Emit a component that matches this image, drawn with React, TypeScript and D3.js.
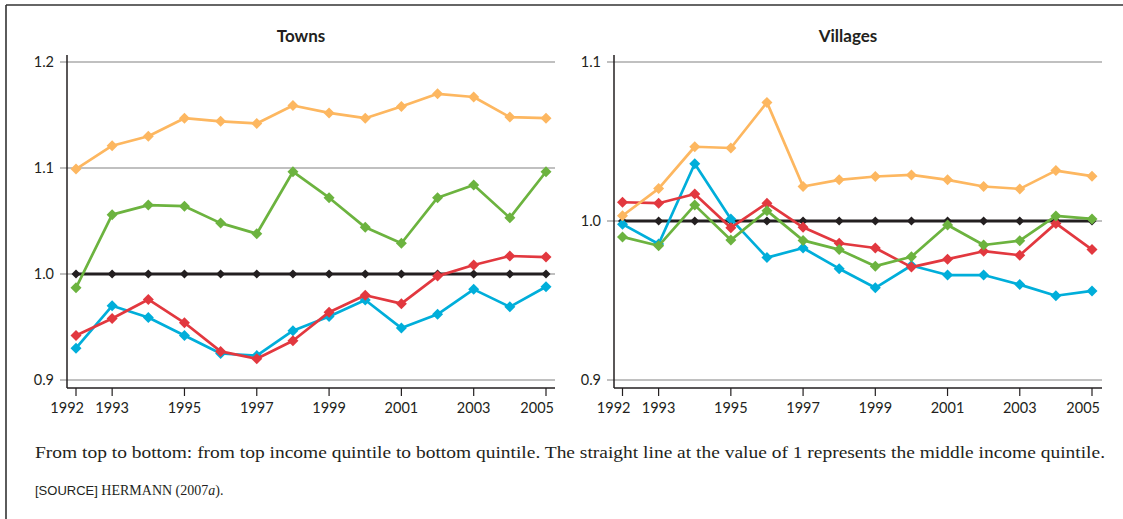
import React from "react";
import * as d3 from "d3";

const years = [1992, 1993, 1994, 1995, 1996, 1997, 1998, 1999, 2000, 2001, 2002, 2003, 2004, 2005];
const xTickYears = [1992, 1993, 1995, 1997, 1999, 2001, 2003, 2005];

const townsTop = [1.099, 1.121, 1.130, 1.147, 1.144, 1.142, 1.159, 1.152, 1.147, 1.158, 1.170, 1.167, 1.148, 1.147];
const townsSecond = [0.987, 1.056, 1.065, 1.064, 1.048, 1.038, 1.0965, 1.072, 1.044, 1.029, 1.072, 1.084, 1.053, 1.0965];
const townsMiddle = [1, 1, 1, 1, 1, 1, 1, 1, 1, 1, 1, 1, 1, 1];
const townsFourth = [0.942, 0.958, 0.976, 0.954, 0.927, 0.920, 0.937, 0.964, 0.980, 0.972, 0.998, 1.0085, 1.017, 1.016];
const townsBottom = [0.930, 0.970, 0.959, 0.942, 0.925, 0.923, 0.9465, 0.960, 0.9755, 0.949, 0.962, 0.9855, 0.969, 0.988];

const villagesTop = [1.0033, 1.0204, 1.0467, 1.0459, 1.0746, 1.0217, 1.0259, 1.028, 1.029, 1.0259, 1.0217, 1.0202, 1.0317, 1.0282];
const villagesSecond = [0.990, 0.9844, 1.010, 0.988, 1.0065, 0.9878, 0.982, 0.9716, 0.9775, 0.9975, 0.9849, 0.9876, 1.0032, 1.0013];
const villagesMiddle = [1, 1, 1, 1, 1, 1, 1, 1, 1, 1, 1, 1, 1, 1];
const villagesFourth = [1.0118, 1.0112, 1.017, 0.9958, 1.0112, 0.996, 0.986, 0.983, 0.971, 0.976, 0.981, 0.9785, 0.9985, 0.982];
const villagesBottom = [0.998, 0.9855, 1.036, 1.0013, 0.977, 0.983, 0.970, 0.958, 0.972, 0.966, 0.966, 0.960, 0.953, 0.956];

const townsYTicks = [0.9, 1.0, 1.1, 1.2];
const villagesYTicks = [0.9, 1.0, 1.1];

const COLORS = {
  top: "#FDB760",
  second: "#6CB33F",
  middle: "#231F20",
  fourth: "#E2383F",
  bottom: "#00AEDA",
};

const SANS = "Lato, 'Open Sans', sans-serif";
const SERIF = "'Liberation Serif', 'DejaVu Serif', serif";

type Series = { key: string; values: number[]; color: string; middle?: boolean };

function Panel(props: {
  title: string;
  series: Series[];
  yDomain: [number, number];
  yTicks: number[];
  x0: number;
  x1: number;
  axisX: number;
  rightX: number;
}) {
  const { title, series, yDomain, yTicks, x0, x1, axisX, rightX } = props;
  const x = d3.scaleLinear().domain([1992, 2005]).range([x0, x1]);
  const y = d3.scaleLinear().domain(yDomain).range([380, 62]);
  const axisY = 388;
  const line = d3
    .line<number>()
    .x((_, i) => x(years[i]))
    .y((v) => y(v));
  const diamond = (cx: number, cy: number, r: number) =>
    `M${cx},${cy - r}L${cx + r},${cy}L${cx},${cy + r}L${cx - r},${cy}Z`;
  const cxTitle = (axisX + rightX) / 2 - 10;
  return (
    <g>
      <text x={cxTitle} y={42} textAnchor="middle" fontFamily={SANS} fontWeight="bold" fontSize={17} fill="#231F20">
        {title}
      </text>
      {yTicks.map((t) => (
        <g key={t}>
          <line x1={axisX - 7} x2={rightX} y1={y(t)} y2={y(t)} stroke="#ABABAB" strokeWidth={1.5} />
          <text x={axisX - 13} y={y(t)} dy="0.35em" textAnchor="end" fontFamily={SANS} fontSize={14.5} fill="#231F20">
            {d3.format(".1f")(t)}
          </text>
        </g>
      ))}
      <line x1={axisX} x2={axisX} y1={55} y2={axisY} stroke="#231F20" strokeWidth={1.5} />
      <line x1={axisX} x2={rightX} y1={axisY} y2={axisY} stroke="#231F20" strokeWidth={1.5} />
      {xTickYears.map((yr) => {
        const edge = yr === 1992 || yr === 2005;
        return (
          <g key={yr}>
            <line x1={x(yr)} x2={x(yr)} y1={axisY} y2={axisY + 8} stroke="#231F20" strokeWidth={1.2} />
            <text
              x={edge ? x(yr) + 8 : x(yr)}
              y={413}
              textAnchor={edge ? "end" : "middle"}
              fontFamily={SANS}
              fontSize={14.5}
              fill="#231F20"
            >
              {yr}
            </text>
          </g>
        );
      })}
      {series.map((s) => (
        <g key={s.key}>
          <path d={line(s.values) || ""} fill="none" stroke={s.color} strokeWidth={s.middle ? 3 : 2.7} strokeLinejoin="round" />
          {s.values.map((v, i) => (
            <path key={i} d={diamond(x(years[i]), y(v), s.middle ? 4.5 : 5.5)} fill={s.color} />
          ))}
        </g>
      ))}
    </g>
  );
}

export default function App() {
  const towns: Series[] = [
    { key: "middle", values: townsMiddle, color: COLORS.middle, middle: true },
    { key: "bottom", values: townsBottom, color: COLORS.bottom },
    { key: "fourth", values: townsFourth, color: COLORS.fourth },
    { key: "second", values: townsSecond, color: COLORS.second },
    { key: "top", values: townsTop, color: COLORS.top },
  ];
  const villages: Series[] = [
    { key: "middle", values: villagesMiddle, color: COLORS.middle, middle: true },
    { key: "bottom", values: villagesBottom, color: COLORS.bottom },
    { key: "fourth", values: villagesFourth, color: COLORS.fourth },
    { key: "second", values: villagesSecond, color: COLORS.second },
    { key: "top", values: villagesTop, color: COLORS.top },
  ];
  return (
    <svg width={1123} height={519} style={{ position: "absolute", left: 0, top: 0, background: "#fff" }}>
      <rect x={0} y={0} width={1123} height={519} fill="#fff" />
      <line x1={6} x2={1123} y1={5} y2={5} stroke="#333" strokeWidth={1.6} />
      <line x1={6} x2={6} y1={5} y2={519} stroke="#333" strokeWidth={1.6} />
      <Panel title="Towns" series={towns} yDomain={[0.9, 1.2]} yTicks={townsYTicks} x0={76} x1={546} axisX={67} rightX={555} />
      <Panel title="Villages" series={villages} yDomain={[0.9, 1.1]} yTicks={villagesYTicks} x0={622.5} x1={1092} axisX={614} rightX={1102} />
      <text x={35} y={458} fontFamily={SERIF} fontSize={17} fill="#231F20" textLength={1070} lengthAdjust="spacingAndGlyphs">
        From top to bottom: from top income quintile to bottom quintile. The straight line at the value of 1 represents the middle income quintile.
      </text>
      <text x={35} y={495} fill="#231F20">
        <tspan fontFamily="'Liberation Sans Narrow', 'Liberation Sans', sans-serif" fontSize={13}>[SOURCE]</tspan>
        <tspan fontFamily={SERIF} fontSize={14}> HERMANN (2007</tspan>
        <tspan fontFamily={SERIF} fontStyle="italic" fontSize={14}>a</tspan>
        <tspan fontFamily={SERIF} fontSize={14}>).</tspan>
      </text>
    </svg>
  );
}
